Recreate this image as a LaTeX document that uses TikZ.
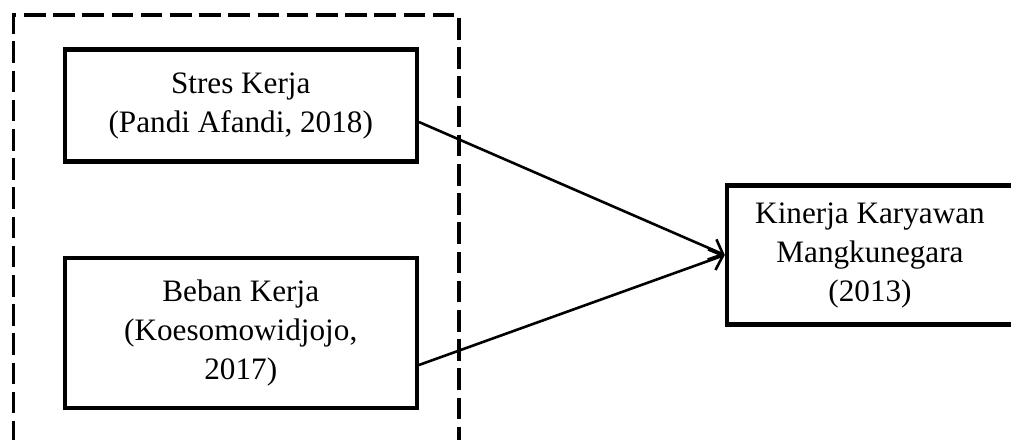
\documentclass[tikz,border=0pt]{standalone}
\usepackage{fontspec}
\setmainfont{Liberation Serif}
\usetikzlibrary{arrows.meta}
\begin{document}
\begin{tikzpicture}[x=0.5pt,y=-0.5pt,
  box/.style={draw, line width=2.2pt, align=center, inner sep=0pt,
    font=\fontsize{15.6}{19.5}\selectfont},
  group/.style={draw, line width=1.6pt, dash pattern=on 10.8pt off 3.8pt, inner sep=0pt},
  link/.style={line width=1.3pt, -{Straight Barb[length=6pt,width=11pt]}}]
\path[use as bounding box] (0,0) rectangle (1011,439);
\clip (0,0) rectangle (1011,439);
% dashed frame around the independent variables
\node[group, minimum width=222.75pt, minimum height=227.5pt] (frame) at (236.25,242.5) {};
% variables
\node[box, minimum width=176pt, minimum height=56pt] (stres) at (240.75,105.5)
  {Stres Kerja\\(Pandi Afandi, 2018)};
\node[box, minimum width=176pt, minimum height=75pt] (beban) at (240.75,333)
  {Beban Kerja\\(Koesomowidjojo,\\2017)};
\node[box, minimum width=143pt, minimum height=69.5pt] (kinerja) at (870,255)
  {Kinerja Karyawan\\Mangkunegara\\(2013)};
% influences
\draw[link] ([yshift=-8.25pt]stres.east) -- (kinerja.west);
\draw[link] ([yshift=-16pt]beban.east) -- (kinerja.west);
\end{tikzpicture}
\end{document}
